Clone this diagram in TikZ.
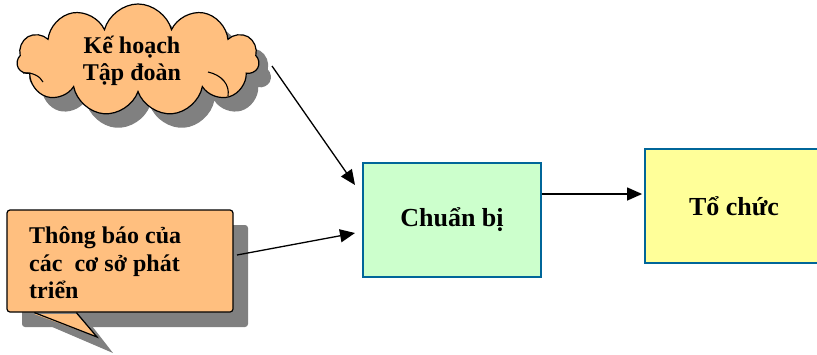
\documentclass[tikz,border=0pt]{standalone}
\usepackage{fontspec}
\setmainfont{Liberation Serif}
\usetikzlibrary{shapes.symbols,arrows.meta}
\definecolor{orangefill}{RGB}{255,191,127}
\definecolor{shadowgray}{RGB}{128,128,128}
\definecolor{greenfill}{RGB}{204,255,204}
\definecolor{yellowfill}{RGB}{255,255,153}
\definecolor{boxblue}{RGB}{0,102,153}
\begin{document}
\begin{tikzpicture}[x=1pt,y=-1pt,
  arr/.style={line width=1.3pt,-{Triangle[length=15pt,width=13pt]}},
  procbox/.style={draw=boxblue,line width=1.8pt,inner sep=0pt,
    font=\fontsize{26}{28}\selectfont\bfseries},
  cloudshape/.style={cloud,cloud puffs=11,cloud ignores aspect,
    minimum width=242pt,minimum height=112pt,inner sep=0pt},
  label24/.style={inner sep=0pt,font=\fontsize{24}{27.5}\selectfont\bfseries},
  outline/.style={draw=black,line width=1.2pt},
  innerarc/.style={line width=1.1pt}]
\useasboundingbox (0,0) rectangle (817,354);

% cloud with shadow
\node[cloudshape,fill=shadowgray] (planshadow) at (150,74) {};
\node[cloudshape,fill=orangefill,outline] (plan) at (138,60) {};
\draw[innerarc] (208,72) .. controls (222,75) and (230,85) .. (228,96);
\draw[innerarc] (23,73) .. controls (32,72) and (40,76) .. (43,82);
\node[label24,align=center] (plantext) at (132,61) {Kế hoạch\\Tập đoàn};

% callout with shadow
\fill[shadowgray,rounded corners=3pt] (22,225) rectangle (248,327);
\fill[shadowgray] (50,326) -- (113,353) -- (92,326) -- cycle;
\node[outline,fill=orangefill,rounded corners=3pt,minimum width=226pt,
  minimum height=102pt,inner sep=0pt] (notice) at (120,261) {};
\coordinate (tailA) at ([xshift=28pt]notice.south west);
\coordinate (tailB) at ([xshift=70pt]notice.south west);
\coordinate (tailtip) at (97,337);
\fill[orangefill] ([yshift=-1.5pt]tailA) -- (tailtip) -- ([yshift=-1.5pt]tailB) -- cycle;
\draw[outline,line join=miter] (tailA) -- (tailtip) -- (tailB);
\node[label24,anchor=west,align=left] (noticetext) at (29,263)
  {Thông báo của\\các\ \ cơ sở phát\\triển};

% process boxes
\node[procbox,fill=greenfill,minimum width=178pt,minimum height=114pt] (prep) at (452,220) {Chuẩn bị};
\node[procbox,fill=yellowfill,minimum width=178pt,minimum height=114pt] (org) at (734,206) {Tổ chức};

% connectors
\coordinate (a1s) at (272,66);
\coordinate (a1e) at (355,185);
\coordinate (a2s) at (237,255);
\coordinate (a2e) at (355,233);
\coordinate (a3) at (0,194);
\draw[arr] (a1s) -- (a1e);
\draw[arr] (a2s) -- (a2e);
\draw[arr,shorten >=2pt] (prep.east |- a3) -- (org.west |- a3);
\end{tikzpicture}
\end{document}
